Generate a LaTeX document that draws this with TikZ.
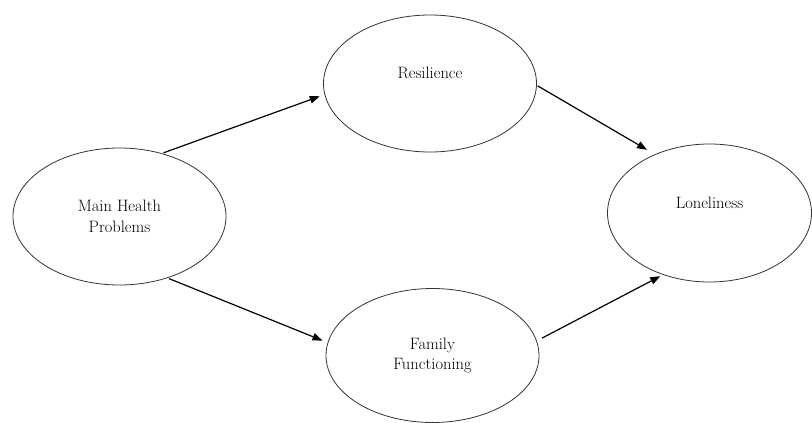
\documentclass[tikz,border=0pt]{standalone}
\usetikzlibrary{arrows.meta,shapes.geometric}
\begin{document}
\begin{tikzpicture}[x=1pt,y=-1pt,
  var/.style={ellipse,draw=black!80,line width=0.8pt,inner sep=0pt,
    minimum width=213pt,minimum height=137pt,align=center,
    font=\fontsize{16.5}{20.5}\selectfont},
  path/.style={line width=1.2pt,-{Triangle[length=10pt,width=7.5pt]}}]
\useasboundingbox (0,0) rectangle (812,423);
\node[var] (mh) at (119.5,216.5) {Main Health\\Problems};
\node[var] (res) at (430,83.5) {Resilience\\\mbox{}};
\node[var,minimum height=134pt] (ff) at (432.5,355.5) {Family\\Functioning};
\node[var,minimum width=204pt,minimum height=138pt] (lon) at (709.5,213) {Loneliness\\\mbox{}};
\draw[path,shorten <=1.5pt,shorten >=5pt] (mh.56) -- (res.186);
\draw[path,shorten <=1pt,shorten >=9pt] (res.-1) -- (lon.133.6);
\draw[path,shorten <=1.5pt,shorten >=5.5pt] (mh.-52) -- (ff.173.3);
\draw[path,shorten <=6pt,shorten >=3pt] (ff.8) -- (lon.233);
\end{tikzpicture}
\end{document}
